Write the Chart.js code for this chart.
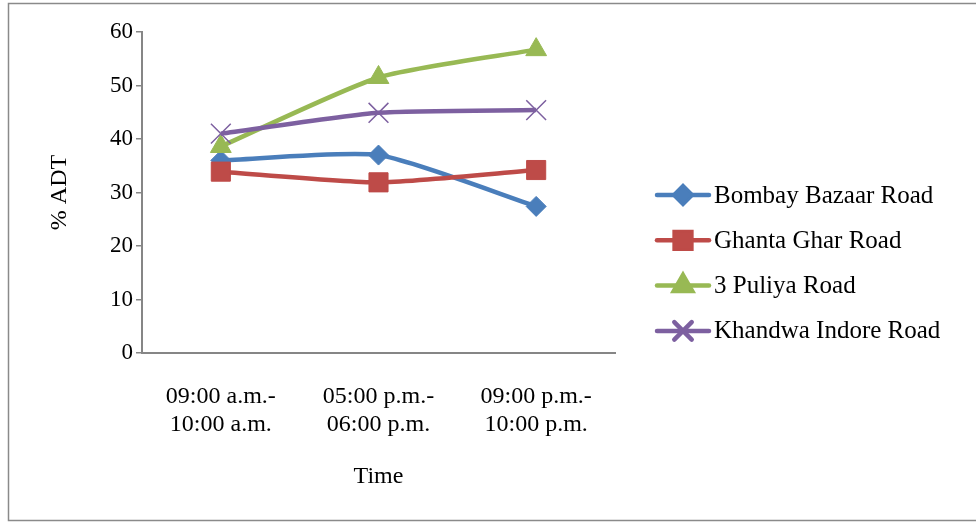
<!DOCTYPE html>
<html lang="en">
<head>
    <meta charset="UTF-8">
    <title>% ADT by Time</title>
    <script src="https://cdn.jsdelivr.net/npm/chart.js"></script>
    <style>
        body { margin: 0; background: #fff; }
        canvas { display: block; }
    </style>
</head>
<body>
    <canvas id="adt-chart" width="976" height="522"></canvas>

    <script>
        // Data
        const timeLabels = [['09:00 a.m.-', '10:00 a.m.'], ['05:00 p.m.-', '06:00 p.m.'], ['09:00 p.m.-', '10:00 p.m.']];
        const bombayBazaar = [36.0, 37.0, 27.4];
        const ghantaGhar = [33.9, 31.9, 34.2];
        const puliya = [38.6, 51.5, 56.7];
        const khandwaIndore = [41.0, 44.9, 45.4];
        const yTicks = [0, 10, 20, 30, 40, 50, 60];

        const serif = "'Liberation Serif', 'Times New Roman', serif";

        const seriesDefs = [
            { label: 'Bombay Bazaar Road', data: bombayBazaar, color: '#4A7EBB', style: 'rectRot', radius: 10 },
            { label: 'Ghanta Ghar Road', data: ghantaGhar, color: '#BE4B48', style: 'rect', radius: 13.5 },
            { label: '3 Puliya Road', data: puliya, color: '#98B954', style: 'triangle', radius: 12 },
            { label: 'Khandwa Indore Road', data: khandwaIndore, color: '#7D60A0', style: 'crossRot', radius: 14 }
        ];

        // frame round the whole picture
        const framePlugin = {
            id: 'frame',
            beforeDraw(chart) {
                const ctx = chart.ctx;
                ctx.save();
                ctx.fillStyle = '#fff';
                ctx.fillRect(0, 0, chart.width, chart.height);
                ctx.strokeStyle = '#8a8a8a';
                ctx.lineWidth = 1.5;
                ctx.strokeRect(8.5, 3.5, chart.width, 517);
                ctx.restore();
            }
        };

        // legend with line + marker, drawn on the right
        const sideLegend = {
            id: 'sideLegend',
            afterDraw(chart) {
                const ctx = chart.ctx;
                ctx.save();
                seriesDefs.forEach((s, i) => {
                    const y = 195 + i * 45.3;
                    ctx.strokeStyle = s.color;
                    ctx.lineWidth = 4.5;
                    ctx.lineCap = 'round';
                    ctx.beginPath();
                    ctx.moveTo(657, y);
                    ctx.lineTo(709, y);
                    ctx.stroke();
                    Chart.helpers.drawPoint(ctx, {
                        pointStyle: s.style,
                        radius: s.radius * 0.88,
                        borderWidth: s.style === 'crossRot' ? 1.5 : 1,
                        rotation: 0
                    }, 683, y);
                    ctx.fillStyle = s.color;
                    ctx.strokeStyle = s.color;
                    ctx.lineWidth = s.style === 'crossRot' ? 1.5 : 1;
                    if (s.style !== 'crossRot') ctx.fill();
                    ctx.stroke();
                    ctx.fillStyle = '#000';
                    ctx.font = '25px ' + serif;
                    ctx.textBaseline = 'middle';
                    ctx.textAlign = 'left';
                    ctx.fillText(s.label, 714, y + 1);
                });
                ctx.restore();
            }
        };

        const ctx = document.getElementById('adt-chart').getContext('2d');
        new Chart(ctx, {
            type: 'line',
            data: {
                labels: timeLabels,
                datasets: seriesDefs.map((s, i) => ({
                    label: s.label,
                    data: s.data,
                    order: seriesDefs.length - i,
                    borderColor: s.color,
                    backgroundColor: s.color,
                    borderWidth: 4.5,
                    tension: 0.2,
                    pointStyle: s.style,
                    pointRadius: s.radius,
                    pointHoverRadius: s.radius,
                    pointBorderWidth: s.style === 'crossRot' ? 1.5 : 1,
                    fill: false
                }))
            },
            options: {
                responsive: false,
                animation: false,
                layout: { padding: { left: 8, right: 361, top: 32, bottom: 0 } },
                plugins: {
                    legend: { display: false },
                    tooltip: { enabled: false }
                },
                scales: {
                    x: {
                        type: 'category',
                        offset: true,
                        grid: { display: false, drawTicks: false },
                        border: { display: true, color: '#868686', width: 2 },
                        ticks: {
                            color: '#000',
                            padding: 30,
                            maxRotation: 0,
                            font: { family: serif, size: 24, lineHeight: 1.15 }
                        },
                        title: {
                            display: true,
                            text: 'Time',
                            color: '#000',
                            font: { family: serif, size: 24, lineHeight: 1.2 },
                            padding: { top: 0, bottom: 31 }
                        },
                        afterFit(scale) { scale.height = 522 - 353; }
                    },
                    y: {
                        min: 0,
                        max: 60,
                        afterBuildTicks(scale) { scale.ticks = yTicks.map(v => ({ value: v })); },
                        grid: {
                            display: true,
                            drawOnChartArea: false,
                            drawTicks: true,
                            tickLength: 6,
                            color: '#868686',
                            lineWidth: 1.5
                        },
                        border: { display: true, color: '#868686', width: 2 },
                        ticks: {
                            color: '#000',
                            padding: 3,
                            font: { family: serif, size: 23 }
                        },
                        title: {
                            display: true,
                            text: '% ADT',
                            color: '#000',
                            font: { family: serif, size: 24, lineHeight: 1.2 },
                            padding: { top: 37, bottom: 0 }
                        },
                        afterFit(scale) { scale.width = 142 - 8; }
                    }
                }
            },
            plugins: [framePlugin, sideLegend]
        });
    </script>
</body>
</html>
